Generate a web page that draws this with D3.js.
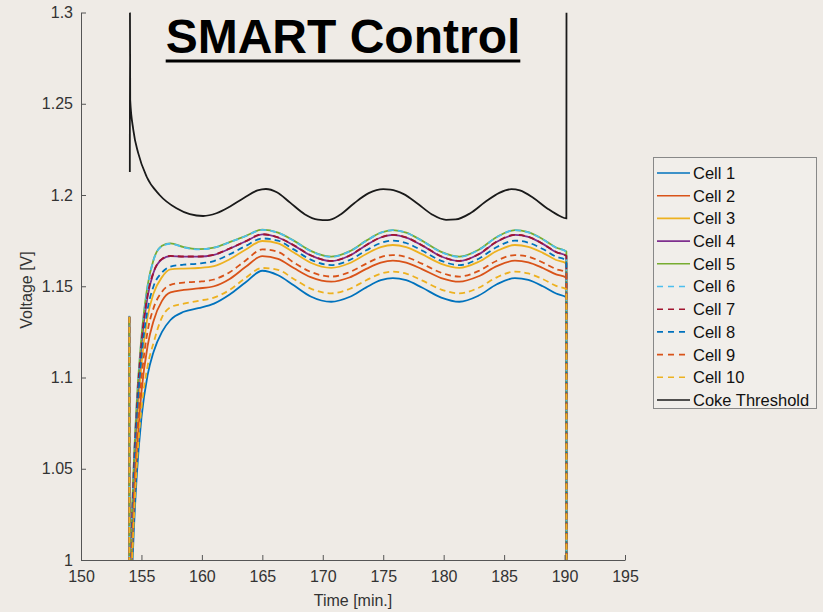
<!DOCTYPE html>
<html>
<head>
<meta charset="utf-8">
<style>
  body { margin: 0; background: #efebe6; }
  svg { display: block; font-family: "Liberation Sans", Arial, sans-serif; }
</style>
</head>
<body>
<svg width="823" height="612"></svg>
<script src="https://d3js.org/d3.v7.min.js"></script>
<script>

// shared time base for the cells [min.]
var time = [154.0, 154.01, 154.15, 154.3, 154.6, 155.0, 155.5, 156.0, 156.7, 157.4, 158.5, 159.7,
            161.0, 162.3, 163.6, 165.0, 166.3, 167.6, 169.0, 170.7, 172.2, 173.6, 174.8, 175.8,
            176.9, 178.2, 179.8, 181.3, 182.9, 184.4, 185.9, 187.0, 188.2, 189.3, 190.15, 190.16];

var cell1  = [1.1330, 0.90, 0.975, 1.005, 1.045, 1.078, 1.101, 1.114, 1.125, 1.1315, 1.1360, 1.1380, 1.1405, 1.1455, 1.1520, 1.1585, 1.1560, 1.1505, 1.1444, 1.1415, 1.1441, 1.1494, 1.1533, 1.1545, 1.1533, 1.1493, 1.1438, 1.1415, 1.1449, 1.1511, 1.1545, 1.1535, 1.1500, 1.1460, 1.1440, 0.90];
var cell2  = [1.1331, 0.90, 0.985, 1.018, 1.057, 1.092, 1.117, 1.131, 1.1420, 1.1466, 1.1480, 1.1488, 1.1500, 1.1540, 1.1605, 1.1665, 1.1650, 1.1600, 1.1550, 1.1525, 1.1548, 1.1595, 1.1629, 1.1640, 1.1629, 1.1594, 1.1545, 1.1525, 1.1555, 1.1610, 1.1640, 1.1631, 1.1600, 1.1565, 1.1547, 0.90];
var cell3  = [1.1334, 0.90, 0.990, 1.027, 1.070, 1.107, 1.133, 1.146, 1.1550, 1.1592, 1.1597, 1.1600, 1.1610, 1.1648, 1.1700, 1.1748, 1.1735, 1.1685, 1.1629, 1.1601, 1.1626, 1.1677, 1.1714, 1.1726, 1.1714, 1.1676, 1.1623, 1.1601, 1.1634, 1.1693, 1.1726, 1.1716, 1.1683, 1.1644, 1.1625, 0.90];
var cell4  = [1.1330, 0.90, 0.995, 1.035, 1.080, 1.118, 1.144, 1.1575, 1.1648, 1.1665, 1.1662, 1.1662, 1.1672, 1.1706, 1.1745, 1.1784, 1.1767, 1.1724, 1.1669, 1.1638, 1.1667, 1.1725, 1.1767, 1.1781, 1.1767, 1.1724, 1.1663, 1.1638, 1.1675, 1.1744, 1.1781, 1.1770, 1.1732, 1.1687, 1.1665, 0.90];
var cell5  = [1.1335, 0.90, 1.005, 1.040, 1.085, 1.122, 1.150, 1.1645, 1.1722, 1.1735, 1.1714, 1.1703, 1.1712, 1.1742, 1.1775, 1.1810, 1.1794, 1.1750, 1.1694, 1.1662, 1.1691, 1.1750, 1.1794, 1.1808, 1.1794, 1.1750, 1.1688, 1.1662, 1.1700, 1.1770, 1.1808, 1.1796, 1.1758, 1.1712, 1.1690, 0.90];
var cell6  = [1.1338, 0.90, 1.003, 1.039, 1.084, 1.121, 1.149, 1.1643, 1.1720, 1.1733, 1.1713, 1.1702, 1.1711, 1.1741, 1.1774, 1.1809, 1.1793, 1.1749, 1.1693, 1.1661, 1.1690, 1.1749, 1.1793, 1.1807, 1.1793, 1.1749, 1.1687, 1.1661, 1.1699, 1.1769, 1.1807, 1.1795, 1.1757, 1.1711, 1.1689, 0.90];
var cell7  = [1.1333, 0.90, 0.996, 1.036, 1.081, 1.119, 1.145, 1.1577, 1.1650, 1.1666, 1.1663, 1.1663, 1.1673, 1.1707, 1.1746, 1.1785, 1.1768, 1.1725, 1.1670, 1.1639, 1.1668, 1.1726, 1.1768, 1.1782, 1.1768, 1.1725, 1.1664, 1.1639, 1.1676, 1.1745, 1.1782, 1.1771, 1.1733, 1.1688, 1.1666, 0.90];
var cell8  = [1.1332, 0.90, 0.992, 1.030, 1.074, 1.111, 1.137, 1.150, 1.1575, 1.1608, 1.1618, 1.1624, 1.1638, 1.1675, 1.1720, 1.1762, 1.1750, 1.1702, 1.1646, 1.1616, 1.1643, 1.1697, 1.1737, 1.1750, 1.1737, 1.1696, 1.1639, 1.1616, 1.1651, 1.1715, 1.1750, 1.1739, 1.1704, 1.1662, 1.1642, 0.90];
var cell9  = [1.1333, 0.90, 0.988, 1.022, 1.063, 1.099, 1.125, 1.138, 1.1470, 1.1508, 1.1520, 1.1525, 1.1537, 1.1577, 1.1640, 1.1702, 1.1688, 1.1630, 1.1579, 1.1553, 1.1577, 1.1624, 1.1660, 1.1671, 1.1660, 1.1624, 1.1574, 1.1553, 1.1584, 1.1640, 1.1671, 1.1662, 1.1630, 1.1594, 1.1575, 0.90];
var cell10 = [1.1332, 0.90, 0.980, 1.010, 1.050, 1.083, 1.106, 1.119, 1.1330, 1.1385, 1.1405, 1.1420, 1.1438, 1.1480, 1.1545, 1.1600, 1.1590, 1.1540, 1.1487, 1.1461, 1.1485, 1.1533, 1.1569, 1.1580, 1.1569, 1.1532, 1.1482, 1.1461, 1.1492, 1.1549, 1.1580, 1.1570, 1.1539, 1.1502, 1.1484, 0.90];

// coke threshold has its own time base
var thrTime = [154.04, 154.05, 154.07, 154.33, 154.74, 155.43, 156.5, 157.9, 159.0, 160.1, 161.2, 162.3,
               163.5, 164.6, 165.3, 166.2, 167.3, 168.5, 169.6, 170.4, 171.4, 172.6, 173.8, 175.0,
               175.6, 176.7, 177.8, 179.0, 180.2, 181.0, 182.2, 183.4, 184.6, 185.6, 186.3, 187.4,
               188.6, 189.6, 190.15, 190.16];
var thrVolt = [1.2126, 1.3, 1.252, 1.2356, 1.2228, 1.2100, 1.2000, 1.1927, 1.1895, 1.1885, 1.1900, 1.1936,
               1.1985, 1.2025, 1.2033, 1.2015, 1.1958, 1.1895, 1.1865, 1.1862, 1.1890, 1.1955, 1.2010, 1.2032,
               1.2030, 1.2005, 1.1955, 1.1895, 1.1864, 1.1866, 1.1900, 1.1960, 1.2012, 1.2032, 1.2025, 1.1985,
               1.1925, 1.1885, 1.1872, 1.3];

var names  = ["Cell 1", "Cell 2", "Cell 3", "Cell 4", "Cell 5", "Cell 6", "Cell 7", "Cell 8", "Cell 9", "Cell 10"];
var values = [cell1, cell2, cell3, cell4, cell5, cell6, cell7, cell8, cell9, cell10];
var colors = ["#0072BD", "#D95319", "#EDB120", "#7E2F8E", "#77AC30", "#4DBEEE", "#A2142F", "#0072BD", "#D95319", "#EDB120"];
var dashed = [false, false, false, false, false, true, true, true, true, true];

var xTicks = [150, 155, 160, 165, 170, 175, 180, 185, 190, 195];
var yTicks = [1, 1.05, 1.1, 1.15, 1.2, 1.25, 1.3];

var margin = {top: 12.5, left: 81, right: 198, bottom: 52};
var W = 823, H = 612;

var x = d3.scaleLinear().domain([150, 195]).range([margin.left, W - margin.right]);
var y = d3.scaleLinear().domain([1, 1.3]).range([H - margin.bottom, margin.top]);

var svg = d3.select("svg");

svg.append("clipPath").attr("id", "plot")
  .append("rect")
    .attr("x", x(150)).attr("y", y(1.3))
    .attr("width", x(195) - x(150)).attr("height", y(1) - y(1.3));

var line = d3.line()
    .x(function(d) { return x(d[0]); })
    .y(function(d) { return y(d[1]); })
    .curve(d3.curveMonotoneX);

var lines = svg.append("g").attr("clip-path", "url(#plot)");

values.forEach(function(v, i) {
  var pts = time.map(function(t, j) { return [t, v[j]]; });
  lines.append("path")
      .datum(pts)
      .attr("fill", "none")
      .attr("stroke", colors[i])
      .attr("stroke-width", 1.8)
      .attr("stroke-dasharray", dashed[i] ? "6,4" : null)
      .attr("d", line);
});

lines.append("path")
    .datum(thrTime.map(function(t, j) { return [t, thrVolt[j]]; }))
    .attr("fill", "none")
    .attr("stroke", "#1a1a1a")
    .attr("stroke-width", 1.8)
    .attr("d", line);

// axes (ticks point inward, no box)
var xAxis = svg.append("g")
    .attr("transform", "translate(0," + y(1) + ")")
    .call(d3.axisBottom(x).tickValues(xTicks).tickSizeInner(-5).tickSizeOuter(0).tickPadding(11));
var yAxis = svg.append("g")
    .attr("transform", "translate(" + x(150) + ",0)")
    .call(d3.axisLeft(y).tickValues(yTicks).tickFormat(function(d) { return String(d); })
          .tickSizeInner(-5).tickSizeOuter(0).tickPadding(8));

[xAxis, yAxis].forEach(function(a) {
  a.select(".domain").attr("stroke", "#555");
  a.selectAll(".tick line").attr("stroke", "#555");
  a.selectAll(".tick text").attr("fill", "#333").style("font-size", "16px")
    .style("font-family", "'Liberation Sans', Arial, sans-serif");
});

svg.append("text")
    .attr("x", (x(150) + x(195)) / 2).attr("y", 606)
    .attr("text-anchor", "middle")
    .attr("fill", "#333").style("font-size", "16px")
    .text("Time [min.]");

svg.append("text")
    .attr("transform", "translate(32," + 290 + ") rotate(-90)")
    .attr("text-anchor", "middle")
    .attr("fill", "#333").style("font-size", "16px")
    .text("Voltage [V]");

// title with underline
var title = svg.append("text")
    .attr("x", 343).attr("y", 53)
    .attr("text-anchor", "middle")
    .attr("fill", "#000")
    .style("font-size", "48px").style("font-weight", "bold")
    .text("SMART Control");
var tb = title.node().getBBox();
svg.append("rect")
    .attr("x", tb.x).attr("y", 59.5)
    .attr("width", tb.width).attr("height", 3)
    .attr("fill", "#000");

// legend
var legend = svg.append("g");
legend.append("rect")
    .attr("x", 653.5).attr("y", 157.5)
    .attr("width", 163).attr("height", 251)
    .attr("fill", "#f1eeea").attr("stroke", "#888").attr("stroke-width", 1);

var legNames = names.concat(["Coke Threshold"]);
var legColors = colors.concat(["#1a1a1a"]);
var legDash = dashed.concat([false]);

legNames.forEach(function(n, i) {
  var cy = 173 + i * 22.7;
  legend.append("line")
      .attr("x1", 657).attr("x2", 690).attr("y1", cy).attr("y2", cy)
      .attr("stroke", legColors[i]).attr("stroke-width", 1.6)
      .attr("stroke-dasharray", legDash[i] ? "6,5" : null);
  legend.append("text")
      .attr("x", 693).attr("y", cy)
      .attr("dy", "0.36em")
      .attr("fill", "#111").style("font-size", "16.5px")
      .text(n);
});

</script>
</body>
</html>
